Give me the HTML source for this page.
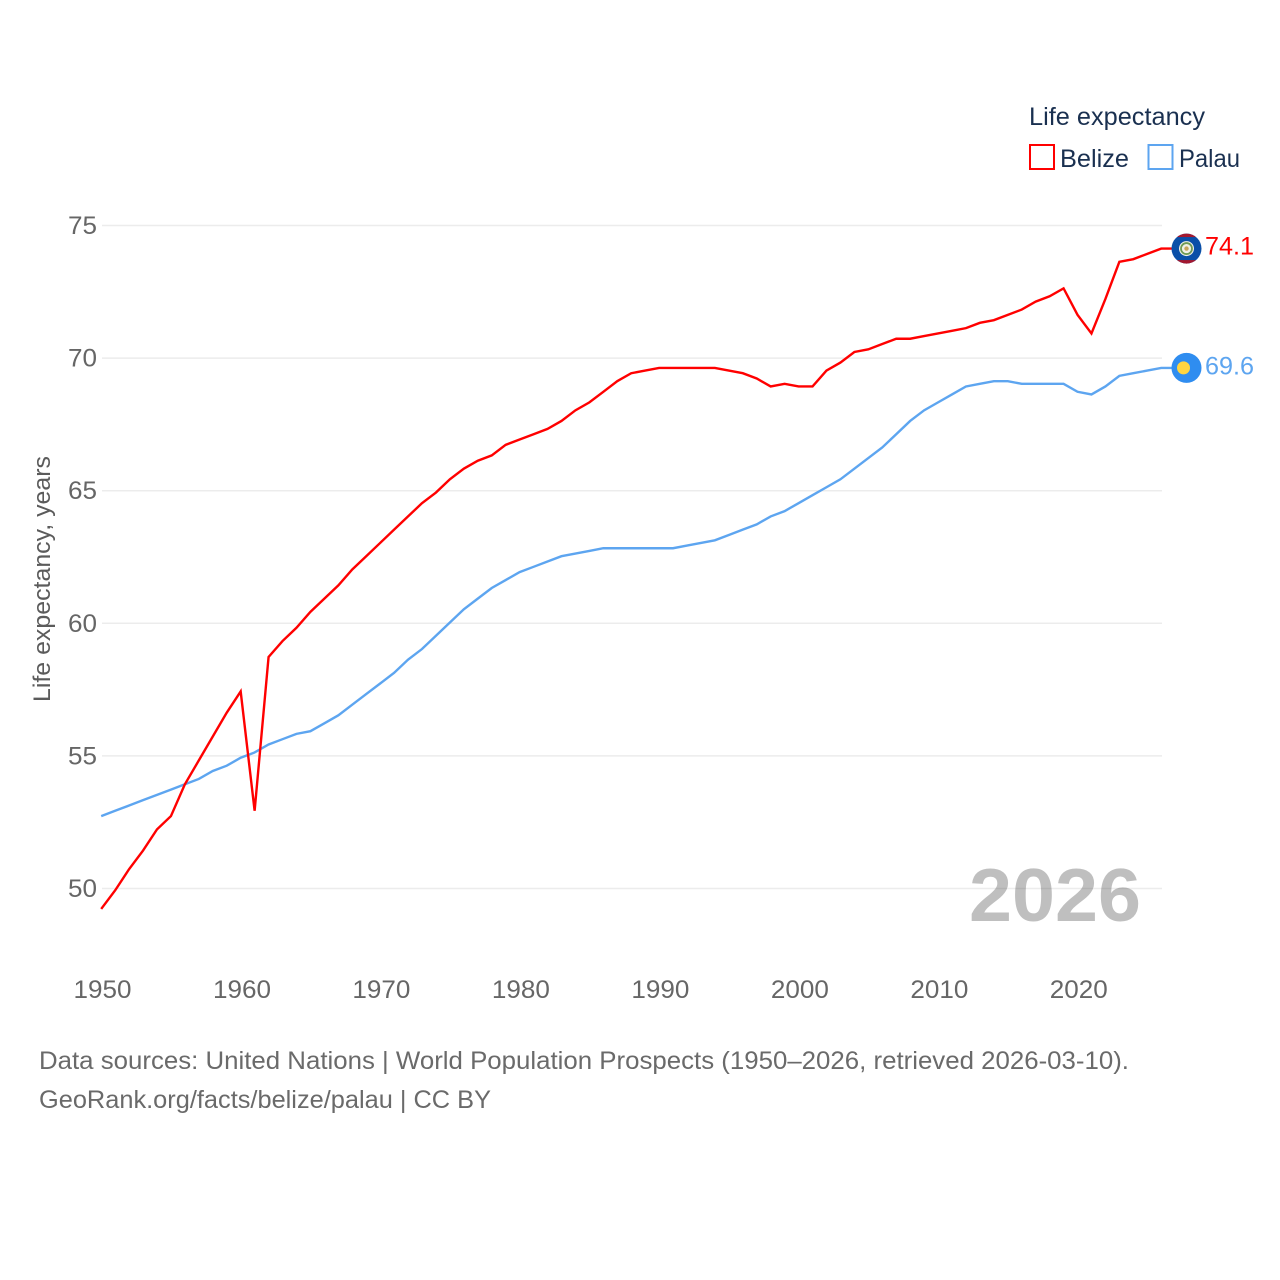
<!DOCTYPE html>
<html lang="en">
<head>
<meta charset="utf-8">
<title>Life expectancy: Belize and Palau</title>
<style>
html,body{margin:0;padding:0;background:#fff;width:1280px;height:1280px;overflow:hidden}
svg{display:block}
text{font-family:"Liberation Sans",sans-serif}
</style>
</head>
<body>
<svg id="chart" xmlns="http://www.w3.org/2000/svg" width="1280" height="1280" viewBox="0 0 1280 1280">
  <rect width="1280" height="1280" fill="#fff"/>
  <g id="grid"></g>
  <text id="yearLabel" x="969" y="921" font-size="75" font-weight="700" fill="#444" fill-opacity="0.34" textLength="172" lengthAdjust="spacingAndGlyphs">2026</text>
  <g id="yTicks"></g>
  <g id="xTicks"></g>
  <text transform="translate(50,702) rotate(-90)" font-size="24" fill="#5b5b5b" textLength="246" lengthAdjust="spacingAndGlyphs">Life expectancy, years</text>
  <g id="series"></g>

  <g>
    <text x="1029" y="125" font-size="25" fill="#1a3050" textLength="176" lengthAdjust="spacingAndGlyphs">Life expectancy</text>
    <g>
      <rect x="1030" y="145" width="24" height="24" fill="#fff" stroke="#ff0000" stroke-width="2"/>
      <text x="1060" y="167" font-size="25" fill="#1a3050" textLength="69" lengthAdjust="spacingAndGlyphs">Belize</text>
    </g>
    <g>
      <rect x="1148.500" y="145" width="24" height="24" fill="#fff" stroke="#5da5f0" stroke-width="2"/>
      <text x="1179" y="167" font-size="25" fill="#1a3050" textLength="61" lengthAdjust="spacingAndGlyphs">Palau</text>
    </g>
  </g>

  <g id="belizeFlag">
    <clipPath id="belizeClip"><circle id="belizeClipCircle" cx="1186.500" cy="249" r="15"/></clipPath>
    <g clip-path="url(#belizeClip)">
      <rect x="1170" y="233" width="33" height="32" fill="#0a4fa8"/>
      <rect x="1170" y="233" width="33" height="4.500" fill="#a3182f"/>
      <rect x="1170" y="260.500" width="33" height="4.500" fill="#a3182f"/>
      <circle cx="1186.500" cy="249" r="7.500" fill="#f0f0e6"/>
      <circle cx="1186.500" cy="249" r="5.500" fill="none" stroke="#6f9a55" stroke-width="1.800"/>
      <circle cx="1186.500" cy="249" r="2.200" fill="#c9a45c"/>
    </g>
  </g>
  <g id="palauFlag">
    <circle cx="1186.500" cy="368.500" r="15" fill="#2f8df0"/>
    <circle cx="1183.500" cy="368.500" r="6.500" fill="#ffd540"/>
  </g>
  <text id="belizeEnd" x="1205" y="255" font-size="25" fill="#ff0000" textLength="49" lengthAdjust="spacingAndGlyphs"></text>
  <text id="palauEnd" x="1205" y="375" font-size="25" fill="#5da5f0" textLength="49" lengthAdjust="spacingAndGlyphs"></text>

  <g>
    <text x="39" y="1069" font-size="25" fill="#6a6a6a" textLength="1090" lengthAdjust="spacingAndGlyphs">Data sources: United Nations | World Population Prospects (1950–2026, retrieved 2026-03-10).</text>
    <text x="39" y="1108" font-size="25" fill="#6a6a6a" textLength="452" lengthAdjust="spacingAndGlyphs">GeoRank.org/facts/belize/palau | CC BY</text>
  </g>
</svg>
<script>
var years = [1950,1951,1952,1953,1954,1955,1956,1957,1958,1959,1960,1961,1962,1963,1964,1965,1966,1967,1968,1969,1970,1971,1972,1973,1974,1975,1976,1977,1978,1979,1980,1981,1982,1983,1984,1985,1986,1987,1988,1989,1990,1991,1992,1993,1994,1995,1996,1997,1998,1999,2000,2001,2002,2003,2004,2005,2006,2007,2008,2009,2010,2011,2012,2013,2014,2015,2016,2017,2018,2019,2020,2021,2022,2023,2024,2025,2026];
var belize = [49.2,49.9,50.7,51.4,52.2,52.7,53.9,54.8,55.7,56.6,57.4,52.9,58.7,59.3,59.8,60.4,60.9,61.4,62.0,62.5,63.0,63.5,64.0,64.5,64.9,65.4,65.8,66.1,66.3,66.7,66.9,67.1,67.3,67.6,68.0,68.3,68.7,69.1,69.4,69.5,69.6,69.6,69.6,69.6,69.6,69.5,69.4,69.2,68.9,69.0,68.9,68.9,69.5,69.8,70.2,70.3,70.5,70.7,70.7,70.8,70.9,71.0,71.1,71.3,71.4,71.6,71.8,72.1,72.3,72.6,71.6,70.9,72.2,73.6,73.7,73.9,74.1];
var palau = [52.7,52.9,53.1,53.3,53.5,53.7,53.9,54.1,54.4,54.6,54.9,55.1,55.4,55.6,55.8,55.9,56.2,56.5,56.9,57.3,57.7,58.1,58.6,59.0,59.5,60.0,60.5,60.9,61.3,61.6,61.9,62.1,62.3,62.5,62.6,62.7,62.8,62.8,62.8,62.8,62.8,62.8,62.9,63.0,63.1,63.3,63.5,63.7,64.0,64.2,64.5,64.8,65.1,65.4,65.8,66.2,66.6,67.1,67.6,68.0,68.3,68.6,68.9,69.0,69.1,69.1,69.0,69.0,69.0,69.0,68.7,68.6,68.9,69.3,69.4,69.5,69.6];
var yTickValues = [50,55,60,65,70,75];
var xTickValues = [1950,1960,1970,1980,1990,2000,2010,2020];

var NS = 'http://www.w3.org/2000/svg';
var SERIES_DX = -0.8;
var SERIES_DY = -0.8;
function xScale(v){ return 102 + (v - 1950) * (1162 - 102) / 76; }
function yScale(v){ return 888.5 + (v - 50) * (225.5 - 888.5) / 25; }
function make(tag, attrs, parent){
  var el = document.createElementNS(NS, tag);
  for (var k in attrs) el.setAttribute(k, attrs[k]);
  parent.appendChild(el);
  return el;
}

var grid = document.getElementById('grid');
var yTicks = document.getElementById('yTicks');
yTickValues.forEach(function(v){
  var line = make('line', {x1:102, x2:1162, y1:yScale(v), y2:yScale(v), stroke:'#ececec', 'stroke-width':1.5}, grid);
  
  
  var t = make('text', {x:97, y:yScale(v) + 8.5, 'font-size':25, fill:'#666', 'text-anchor':'end', textLength:29, lengthAdjust:'spacingAndGlyphs'}, yTicks);
  
  
  t.textContent = v;
});

var xTicks = document.getElementById('xTicks');
xTickValues.forEach(function(v){
  var t = make('text', {x:xScale(v) - 28.5, y:998, 'font-size':25, fill:'#666', textLength:58, lengthAdjust:'spacingAndGlyphs'}, xTicks);
  
  
  t.textContent = v;
});

function drawSeries(values, color, name){
  var g = document.getElementById('series');
  var pts = values.map(function(v, i){ return (xScale(years[i]) + SERIES_DX).toFixed(2) + ',' + (yScale(v) + SERIES_DY).toFixed(2); });
  var last = yScale(values[values.length - 1]) + SERIES_DY;
  pts.push('1172,' + last.toFixed(2));
  var p = make('polyline', {points:pts.join(' '), fill:'none', stroke:color, 'stroke-width':2.4, 'stroke-linejoin':'miter'}, g);
  
  
}
drawSeries(palau, '#5da5f0', 'palau-line');
drawSeries(belize, '#ff0000', 'belize-line');

var belizeLast = belize[belize.length - 1];
var palauLast = palau[palau.length - 1];
var belizeEnd = document.getElementById('belizeEnd');
belizeEnd.textContent = belizeLast.toFixed(1);
var palauEnd = document.getElementById('palauEnd');
palauEnd.textContent = palauLast.toFixed(1);
belizeEnd.setAttribute('y', yScale(belizeLast) + 5);
palauEnd.setAttribute('y', yScale(palauLast) + 6);
document.getElementById('belizeFlag').setAttribute('transform', 'translate(0,' + (yScale(belizeLast) + SERIES_DY - 249) + ')');
document.getElementById('palauFlag').setAttribute('transform', 'translate(0,' + (yScale(palauLast) + SERIES_DY - 368.5) + ')');
</script>
</body>
</html>
